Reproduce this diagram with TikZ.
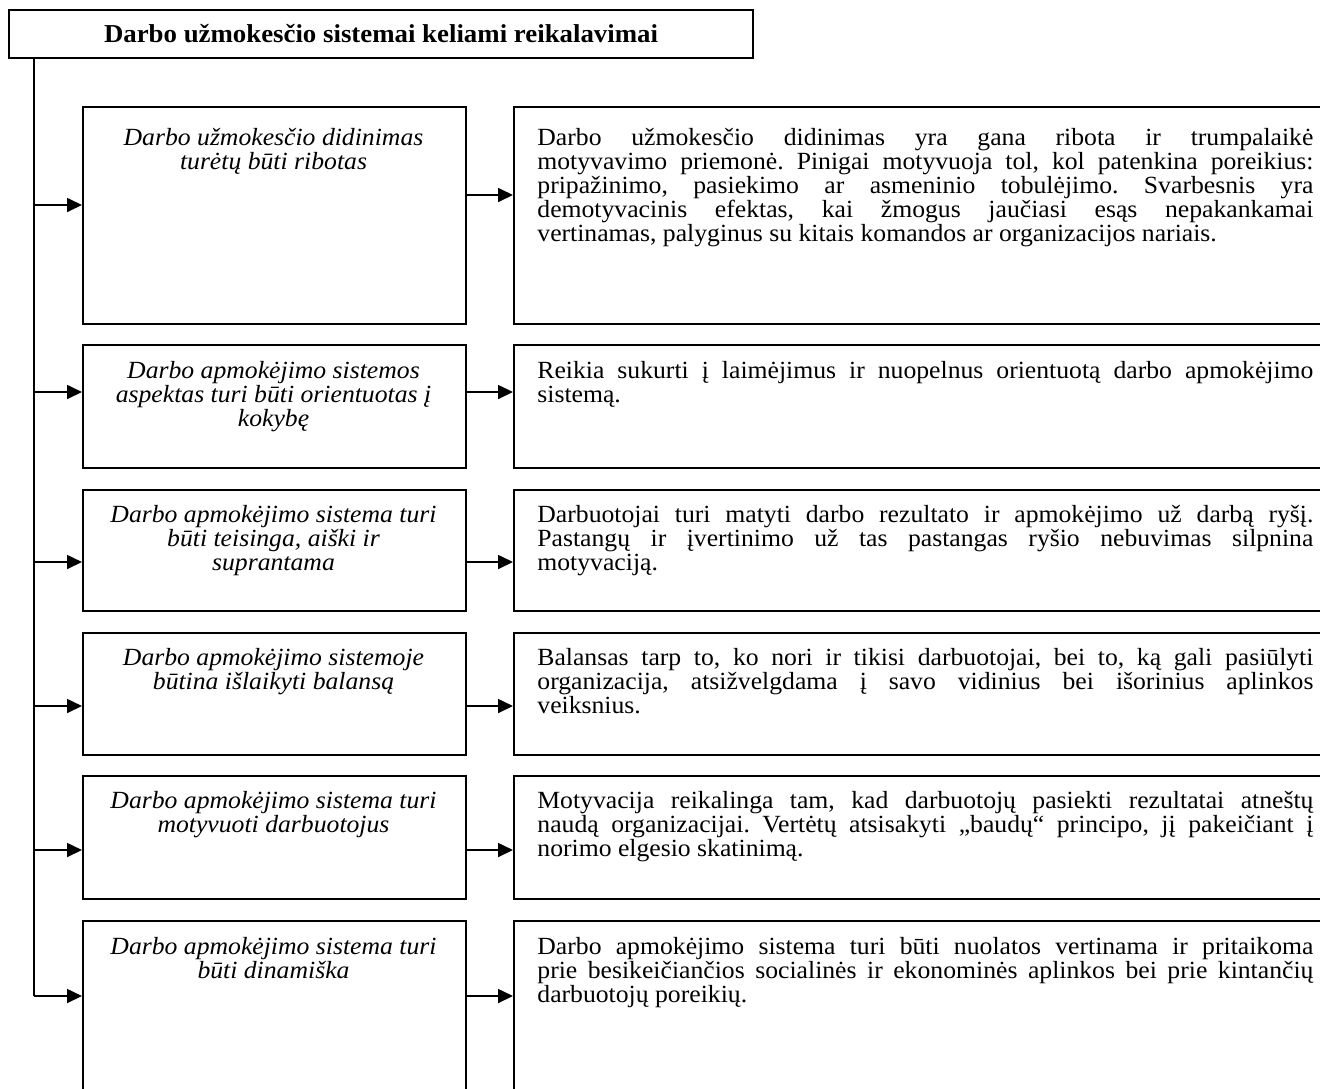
\documentclass[tikz,border=0pt]{standalone}
\usepackage{fontspec}
\setmainfont[FakeStretch=1.04]{Liberation Serif}
\usetikzlibrary{arrows.meta}
\newcommand\txtsize{\fontsize{12.35}{12}\selectfont}
\newcommand\headsize{\fontsize{12.9}{12}\selectfont}
\hyphenpenalty=10000
\frenchspacing
\begin{document}
\begin{tikzpicture}[x=0.5pt,y=-0.5pt,
  frame/.style={draw, line width=1pt, rectangle, inner sep=0pt, anchor=north west},
  leftbox/.style={frame, minimum width=191.5pt},
  rightbox/.style={frame, minimum width=408.5pt},
  link/.style={line width=0.85pt, -{Triangle[length=7.5pt,width=7pt]}},
  trunk/.style={line width=0.85pt},
  lefttext/.style={anchor=north, align=center, font=\itshape\txtsize, inner sep=0pt},
  righttext/.style={anchor=north west, align=justify, text width=388pt,
    font=\txtsize, inner sep=0pt},
]
\useasboundingbox (0,0) rectangle (1320,1088);
\clip (0,0) rectangle (1320,1088);

% heading
\node[draw, line width=1pt, minimum width=372pt, minimum height=24pt, inner sep=0pt,
  font=\bfseries\headsize] (T) at (381,34) {Darbo užmokesčio sistemai keliami reikalavimai};

% left column boxes
\node[leftbox, minimum height=108.5pt] (L1) at (82,106) {};
\node[leftbox, minimum height=61.5pt]  (L2) at (82,344) {};
\node[leftbox, minimum height=60.5pt]  (L3) at (82,489) {};
\node[leftbox, minimum height=61pt]    (L4) at (82,632) {};
\node[leftbox, minimum height=61.5pt]  (L5) at (82,775) {};
\node[leftbox, minimum height=90pt]    (L6) at (82,920) {};

% right column boxes
\node[rightbox, minimum height=108.5pt] (R1) at (513,106) {};
\node[rightbox, minimum height=61.5pt]  (R2) at (513,344) {};
\node[rightbox, minimum height=60.5pt]  (R3) at (513,489) {};
\node[rightbox, minimum height=61pt]    (R4) at (513,632) {};
\node[rightbox, minimum height=61.5pt]  (R5) at (513,775) {};
\node[rightbox, minimum height=90pt]    (R6) at (513,920) {};

% left column texts
\node[lefttext] (L1t) at (273.5,128) {Darbo užmokesčio didinimas\\turėtų būti ribotas};
\node[lefttext] (L2t) at (273.5,361) {Darbo apmokėjimo sistemos\\aspektas turi būti orientuotas į\\kokybę};
\node[lefttext] (L3t) at (273.5,505) {Darbo apmokėjimo sistema turi\\būti teisinga, aiški ir\\suprantama};
\node[lefttext] (L4t) at (273.5,648) {Darbo apmokėjimo sistemoje\\būtina išlaikyti balansą};
\node[lefttext] (L5t) at (273.5,791) {Darbo apmokėjimo sistema turi\\motyvuoti darbuotojus};
\node[lefttext] (L6t) at (273.5,937) {Darbo apmokėjimo sistema turi\\būti dinamiška};

% right column texts
\node[righttext] (R1t) at (537,128) {Darbo užmokesčio didinimas yra gana ribota ir trumpalaikė\linebreak
motyvavimo priemonė. Pinigai motyvuoja tol, kol patenkina poreikius:\linebreak
pripažinimo, pasiekimo ar asmeninio tobulėjimo. Svarbesnis yra\linebreak
demotyvacinis efektas, kai žmogus jaučiasi esąs nepakankamai\linebreak
vertinamas, palyginus su kitais komandos ar organizacijos nariais.};
\node[righttext] (R2t) at (537,361) {Reikia sukurti į laimėjimus ir nuopelnus orientuotą darbo apmokėjimo\linebreak
sistemą.};
\node[righttext] (R3t) at (537,505) {Darbuotojai turi matyti darbo rezultato ir apmokėjimo už darbą ryšį.\linebreak
Pastangų ir įvertinimo už tas pastangas ryšio nebuvimas silpnina\linebreak
motyvaciją.};
\node[righttext] (R4t) at (537,648) {Balansas tarp to, ko nori ir tikisi darbuotojai, bei to, ką gali pasiūlyti\linebreak
organizacija, atsižvelgdama į savo vidinius bei išorinius aplinkos\linebreak
veiksnius.};
\node[righttext] (R5t) at (537,791) {Motyvacija reikalinga tam, kad darbuotojų pasiekti rezultatai atneštų\linebreak
naudą organizacijai. Vertėtų atsisakyti „baudų“ principo, jį pakeičiant į\linebreak
norimo elgesio skatinimą.};
\node[righttext] (R6t) at (537,937) {Darbo apmokėjimo sistema turi būti nuolatos vertinama ir pritaikoma\linebreak
prie besikeičiančios socialinės ir ekonominės aplinkos bei prie kintančių\linebreak
darbuotojų poreikių.};

% branch points on the trunk
\coordinate (t1) at (34,205);
\coordinate (t2) at (34,392);
\coordinate (t3) at (34,562);
\coordinate (t4) at (34,706);
\coordinate (t5) at (34,850);
\coordinate (t6) at (34,996);

% levels of the links between the columns
\coordinate (m1) at (0,195);
\coordinate (m2) at (0,392);
\coordinate (m3) at (0,562);
\coordinate (m4) at (0,706);
\coordinate (m5) at (0,850);
\coordinate (m6) at (0,996);

% trunk from the heading down to the last branch
\draw[trunk] (T.south -| t6) -- (t6);

% branches into the left boxes
\foreach \i in {1,...,6} {
  \draw[link] (t\i) -- (t\i -| L\i.west);
}

% links from the left boxes to the right boxes
\foreach \i in {1,...,6} {
  \draw[link] (L\i.east |- m\i) -- (R\i.west |- m\i);
}
\end{tikzpicture}
\end{document}
